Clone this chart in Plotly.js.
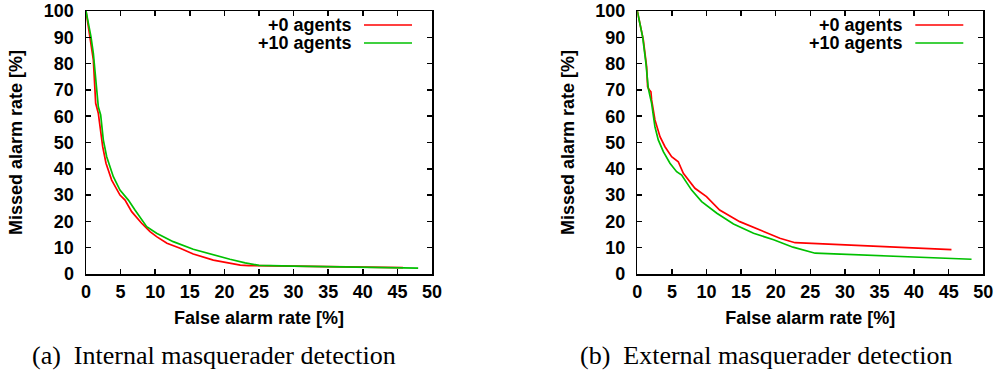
<!DOCTYPE html>
<html>
<head>
<meta charset="utf-8">
<script src="https://cdn.plot.ly/plotly-3.0.1.min.js"></script>
<style>
html,body{margin:0;padding:0;background:#fff;}
#chart{width:1000px;height:371px;}
</style>
</head>
<body>
<div id="chart"></div>
<script>
// ---- Data ----
// (a) Internal masquerader detection
const intX0 = [0, 0.5, 1.06, 1.4, 1.78, 2.41, 2.89, 3.71, 4.91, 5.64, 6.6, 8.04, 9.25, 10.2, 11.7, 13.6, 15.5, 18.4, 20.8, 22.3, 23.5, 25, 30, 35, 40, 45.8];
const intY0 = [100, 90.5, 81.4, 64.9, 61.1, 48.4, 42.1, 35.7, 30.0, 28.1, 23.7, 19.3, 16.1, 14.2, 11.7, 9.8, 7.6, 5.3, 4.1, 3.4, 3.2, 3.2, 3.0, 2.8, 2.6, 2.4];
const intX10 = [0, 0.72, 1.06, 1.54, 1.78, 2.12, 2.5, 2.99, 3.95, 4.91, 6.12, 7.08, 8.77, 10.2, 12.6, 15.5, 18.4, 20.8, 23, 25, 30, 35, 40, 45, 48.0];
const intY10 = [100, 90.2, 83.9, 70, 63.6, 60.5, 51, 44.6, 37, 31.9, 28.1, 24.3, 18, 15.5, 12.3, 9.4, 7.2, 5.6, 4.2, 3.3, 3.0, 2.8, 2.6, 2.4, 2.2];
// (b) External masquerader detection
const extX0 = [0, 0.87, 1.35, 1.49, 1.73, 1.97, 2.07, 2.55, 3.28, 4.0, 4.96, 5.92, 6.65, 8.33, 10.0, 11.9, 14.8, 18.2, 20.6, 22.8, 30, 35, 40, 45.4];
const extY0 = [100, 89, 78.8, 71.2, 70, 69.3, 66.2, 58.6, 52.2, 48.4, 44.6, 42.7, 38.3, 32.6, 29.4, 24.3, 19.9, 16.1, 13.6, 11.9, 11.1, 10.5, 9.9, 9.3];
const extX10 = [0, 0.77, 1.25, 1.59, 2.07, 2.55, 3.03, 3.76, 4.72, 5.68, 6.41, 7.85, 9.3, 11.5, 13.9, 16.8, 19.7, 22.5, 25.7, 30, 35, 40, 48.3];
const extY10 = [100, 90.2, 80.1, 70.6, 64.9, 56, 51, 46.5, 42.1, 38.9, 37.6, 31.9, 27.5, 23.1, 19, 15.5, 13, 10.2, 7.9, 7.5, 6.9, 6.3, 5.6];

const seriesNames = ['+0 agents', '+10 agents'];
const seriesColors = ['#ff0000', '#00c000'];
const captions = ['(a)\u2002Internal masquerader detection', '(b)\u2002External masquerader detection'];
const xTitle = 'False alarm rate [%]';
const yTitle = 'Missed alarm rate [%]';

const sans = 'Liberation Sans, Arial, sans-serif';
const serif = 'Liberation Serif, Times New Roman, serif';
const boldFont = {family: sans, size: 18, color: '#000', weight: 700};

function tr(x, y, i, xa, ya) {
  return {x: x, y: y, type: 'scatter', mode: 'lines', name: seriesNames[i],
    xaxis: xa, yaxis: ya, showlegend: false,
    line: {color: seriesColors[i], width: 1.7}};
}
const data = [
  tr(intX0, intY0, 0, 'x', 'y'),
  tr(intX10, intY10, 1, 'x', 'y'),
  tr(extX0, extY0, 0, 'x2', 'y2'),
  tr(extX10, extY10, 1, 'x2', 'y2')
];

const ydom = [1 - 274/371, 1 - 11/371];
function xax(dom, anchor) {
  return {domain: dom, anchor: anchor, range: [0, 50], dtick: 5, tick0: 0,
    ticks: 'inside', ticklen: 5, tickwidth: 1.5, tickcolor: '#000',
    showline: true, linecolor: '#000', linewidth: 1.5, mirror: 'ticks',
    showgrid: false, zeroline: false, ticklabelstandoff: 1,
    tickfont: boldFont,
    title: {text: xTitle, standoff: 10, font: boldFont}};
}
function yax(anchor) {
  return {domain: ydom, anchor: anchor, range: [0, 100], dtick: 10, tick0: 0,
    ticks: 'inside', ticklen: 5, tickwidth: 1.5, tickcolor: '#000',
    showline: true, linecolor: '#000', linewidth: 1.5, mirror: 'ticks',
    showgrid: false, zeroline: false, ticklabelstandoff: 7,
    tickfont: boldFont,
    title: {text: yTitle, standoff: 16, font: boldFont}};
}

const panels = [{x0: 86, x1: 432}, {x0: 637.3, x1: 983.3}];
const annotations = [];
const shapes = [];
panels.forEach((p, k) => {
  const textRight = p.x1 - 78;
  const lineL = p.x1 - 68, lineR = p.x1 - 20;
  [25, 43].forEach((py, i) => {
    annotations.push({xref: 'paper', yref: 'paper', x: textRight / 1000, y: 1 - py / 371,
      xanchor: 'right', yanchor: 'middle', showarrow: false, text: seriesNames[i],
      font: boldFont});
    shapes.push({type: 'line', xref: 'paper', yref: 'paper', x0: lineL / 1000, x1: lineR / 1000,
      y0: 1 - py / 371, y1: 1 - py / 371, line: {color: seriesColors[i], width: 1.7}});
  });
  annotations.push({xref: 'paper', yref: 'paper', x: (k === 0 ? 214 : 766) / 1000, y: 1 - 355 / 371,
    xanchor: 'center', yanchor: 'middle', showarrow: false, text: captions[k],
    font: {family: serif, size: 26, color: '#000'}});
});

const layout = {
  width: 1000, height: 371,
  margin: {l: 0, r: 0, t: 0, b: 0},
  paper_bgcolor: '#fff', plot_bgcolor: '#fff',
  showlegend: false,
  xaxis: xax([86/1000, 432/1000], 'y'),
  yaxis: yax('x'),
  xaxis2: xax([637.3/1000, 983.3/1000], 'y2'),
  yaxis2: yax('x2'),
  annotations: annotations,
  shapes: shapes
};

Plotly.newPlot('chart', data, layout, {displayModeBar: false, staticPlot: true});
</script>
</body>
</html>
